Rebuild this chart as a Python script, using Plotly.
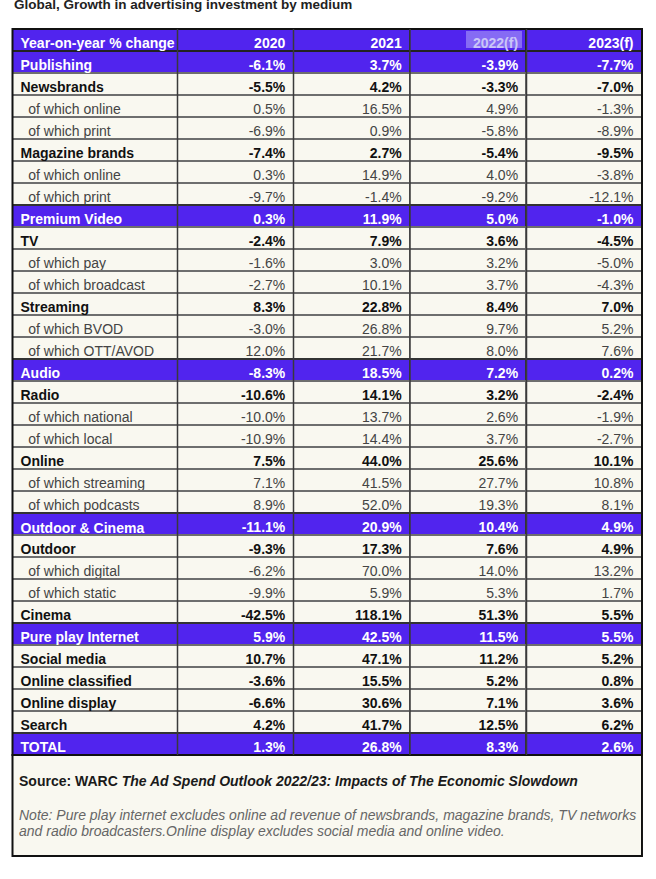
import plotly.graph_objects as go

# Global, Growth in advertising investment by medium (WARC)
W, H = 656, 879

header = ["Year-on-year % change", "2020", "2021", "2022(f)", "2023(f)"]

labels = [
    "Publishing", "Newsbrands", "of which online", "of which print",
    "Magazine brands", "of which online", "of which print",
    "Premium Video", "TV", "of which pay", "of which broadcast",
    "Streaming", "of which BVOD", "of which OTT/AVOD",
    "Audio", "Radio", "of which national", "of which local",
    "Online", "of which streaming", "of which podcasts",
    "Outdoor & Cinema", "Outdoor", "of which digital", "of which static", "Cinema",
    "Pure play Internet", "Social media", "Online classified", "Online display", "Search",
    "TOTAL",
]
# cat = purple section row, main = bold row, sub = "of which" row
kinds = [
    "cat", "main", "sub", "sub", "main", "sub", "sub",
    "cat", "main", "sub", "sub", "main", "sub", "sub",
    "cat", "main", "sub", "sub", "main", "sub", "sub",
    "cat", "main", "sub", "sub", "main",
    "cat", "main", "main", "main", "main",
    "cat",
]

y2020 = [-6.1, -5.5, 0.5, -6.9, -7.4, 0.3, -9.7,
         0.3, -2.4, -1.6, -2.7, 8.3, -3.0, 12.0,
         -8.3, -10.6, -10.0, -10.9, 7.5, 7.1, 8.9,
         -11.1, -9.3, -6.2, -9.9, -42.5,
         5.9, 10.7, -3.6, -6.6, 4.2,
         1.3]
y2021 = [3.7, 4.2, 16.5, 0.9, 2.7, 14.9, -1.4,
         11.9, 7.9, 3.0, 10.1, 22.8, 26.8, 21.7,
         18.5, 14.1, 13.7, 14.4, 44.0, 41.5, 52.0,
         20.9, 17.3, 70.0, 5.9, 118.1,
         42.5, 47.1, 15.5, 30.6, 41.7,
         26.8]
y2022 = [-3.9, -3.3, 4.9, -5.8, -5.4, 4.0, -9.2,
         5.0, 3.6, 3.2, 3.7, 8.4, 9.7, 8.0,
         7.2, 3.2, 2.6, 3.7, 25.6, 27.7, 19.3,
         10.4, 7.6, 14.0, 5.3, 51.3,
         11.5, 11.2, 5.2, 7.1, 12.5,
         8.3]
y2023 = [-7.7, -7.0, -1.3, -8.9, -9.5, -3.8, -12.1,
         -1.0, -4.5, -5.0, -4.3, 7.0, 5.2, 7.6,
         0.2, -2.4, -1.9, -2.7, 10.1, 10.8, 8.1,
         4.9, 4.9, 13.2, 1.7, 5.5,
         5.5, 5.2, 0.8, 3.6, 6.2,
         2.6]

PURPLE = "#5124ee"
CREAM = "#f9f8f0"
CLEAR = "rgba(0,0,0,0)"
NB = "\u00a0"
FONT = "Liberation Sans, Arial, sans-serif"
FS = 14


def nowrap(s):
    # plotly tables wrap (and grow rows) at plain spaces
    return s.replace(" ", NB)


col0 = [nowrap((NB * 2 + l) if k == "sub" else l) for l, k in zip(labels, kinds)]
cols = [col0] + [[f"{v:.1f}%" for v in vals] for vals in (y2020, y2021, y2022, y2023)]

# a table trace can't vary weight by row, so normal and bold text go in stacked tables;
# text with "&" makes plotly grow its row, so it gets a table of its own
has_amp = ["&" in t for t in col0]
sub_cols = [[t if k == "sub" else "" for t, k in zip(c, kinds)] for c in cols]
bold_cols = [[t if (k != "sub" and not (j == 0 and a)) else ""
              for t, k, a in zip(c, kinds, has_amp)] for j, c in enumerate(cols)]
amp_cols = [[t if a else "" for t, a in zip(col0, has_amp)]] + [[""] * len(col0)] * 4

fill = [PURPLE if k == "cat" else CREAM for k in kinds]
fcol = ["white" if k == "cat" else ("#111111" if k == "main" else "#444444") for k in kinds]
lcol = ["#333333" if k == "cat" else "#6e6e6e" for k in kinds]


def px_x(x):
    return x / W


def px_y(y):
    return 1 - y / H


left, right, top = 12.5, 642, 29
domain = dict(x=[px_x(left), px_x(right)], y=[px_y(875), px_y(top)])
widths = [165, 116, 116.5, 116.5, 115.5]
aligns = ["left", "right", "right", "right", "right"]

fig = go.Figure()
fig.add_trace(go.Table(
    domain=domain, columnwidth=widths,
    header=dict(
        values=[nowrap(h) for h in header],
        fill_color=PURPLE,
        font=dict(family=FONT, size=FS, weight="bold",
                  color=["white", "white", "white", "#cdc8f6", "white"]),
        align=aligns,
        line=dict(color="#222222", width=1.5),
        height=22,
    ),
    cells=dict(
        values=sub_cols,
        fill_color=[fill] * 5,
        font=dict(family=FONT, size=FS, color=[fcol] * 5),
        align=aligns,
        line=dict(color=[lcol] * 5, width=1.5),
        height=22,
    ),
))
fig.add_trace(go.Table(
    domain=domain, columnwidth=widths,
    header=dict(values=[""] * 5, fill_color=CLEAR,
                line=dict(color=CLEAR, width=0), height=22),
    cells=dict(
        values=bold_cols,
        fill_color=CLEAR,
        font=dict(family=FONT, size=FS, color=[fcol] * 5, weight="bold"),
        align=aligns,
        line=dict(color=CLEAR, width=0),
        height=22,
    ),
))
# grown row puts its text a few px lower, so lift this table a little
fig.add_trace(go.Table(
    domain=dict(x=domain["x"], y=[px_y(875), px_y(top - 1)]), columnwidth=widths,
    header=dict(values=[""] * 5, fill_color=CLEAR,
                line=dict(color=CLEAR, width=0), height=22),
    cells=dict(
        values=amp_cols,
        fill_color=CLEAR,
        font=dict(family=FONT, size=FS, color="white", weight="bold"),
        align=aligns,
        line=dict(color=CLEAR, width=0),
        height=22,
    ),
))

n_rows = len(labels) + 1
bottom = top + 22 * n_rows

shapes = [
    # selection highlight on "2022(f)"
    dict(type="rect", xref="paper", yref="paper", layer="above",
         x0=px_x(466), x1=px_x(522), y0=px_y(48), y1=px_y(31),
         fillcolor="rgba(200,195,250,0.45)", line_width=0),
    # table outer border
    dict(type="rect", xref="paper", yref="paper",
         x0=px_x(left), x1=px_x(right), y0=px_y(bottom), y1=px_y(top),
         line=dict(color="#111111", width=2)),
    # footer box
    dict(type="rect", xref="paper", yref="paper", layer="below",
         x0=px_x(left), x1=px_x(right), y0=px_y(856), y1=px_y(bottom),
         fillcolor=CREAM, line=dict(color="#111111", width=2)),
]
# darker column separators, as in the source
edge = left
for w in widths[:-1]:
    edge += w
    shapes.append(dict(type="line", xref="paper", yref="paper", layer="above",
                       x0=px_x(edge), x1=px_x(edge), y0=px_y(bottom), y1=px_y(top),
                       line=dict(color="#3a3a3a", width=1.5)))

annotations = [
    dict(text="<b>Global, Growth in advertising investment by medium</b>",
         x=px_x(12), y=px_y(14), xanchor="left", yanchor="bottom",
         font=dict(size=13.5, color="#222222")),
    dict(text="<b>Source: WARC <i>The Ad Spend Outlook 2022/23: Impacts of The Economic Slowdown</i></b>",
         x=px_x(17), y=px_y(781), xanchor="left", yanchor="middle",
         font=dict(size=FS, color="#1a1a1a")),
    dict(text="<i>Note: Pure play internet excludes online ad revenue of newsbrands, magazine brands, TV networks</i>",
         x=px_x(17), y=px_y(815), xanchor="left", yanchor="middle",
         font=dict(size=FS, color="#666666")),
    dict(text="<i>and radio broadcasters.Online display excludes social media and online video.</i>",
         x=px_x(17), y=px_y(831), xanchor="left", yanchor="middle",
         font=dict(size=FS, color="#666666")),
]
for a in annotations:
    a.update(xref="paper", yref="paper", showarrow=False)

fig.update_layout(
    width=W, height=H,
    margin=dict(l=0, r=0, t=0, b=0),
    paper_bgcolor="white",
    font=dict(family=FONT),
    shapes=shapes,
    annotations=annotations,
)

# drop the browser's default 8px body margin so the figure sits at the page corner
fig.write_html("out.html", config={"displayModeBar": False},
               post_script="document.body.style.margin='0';")
